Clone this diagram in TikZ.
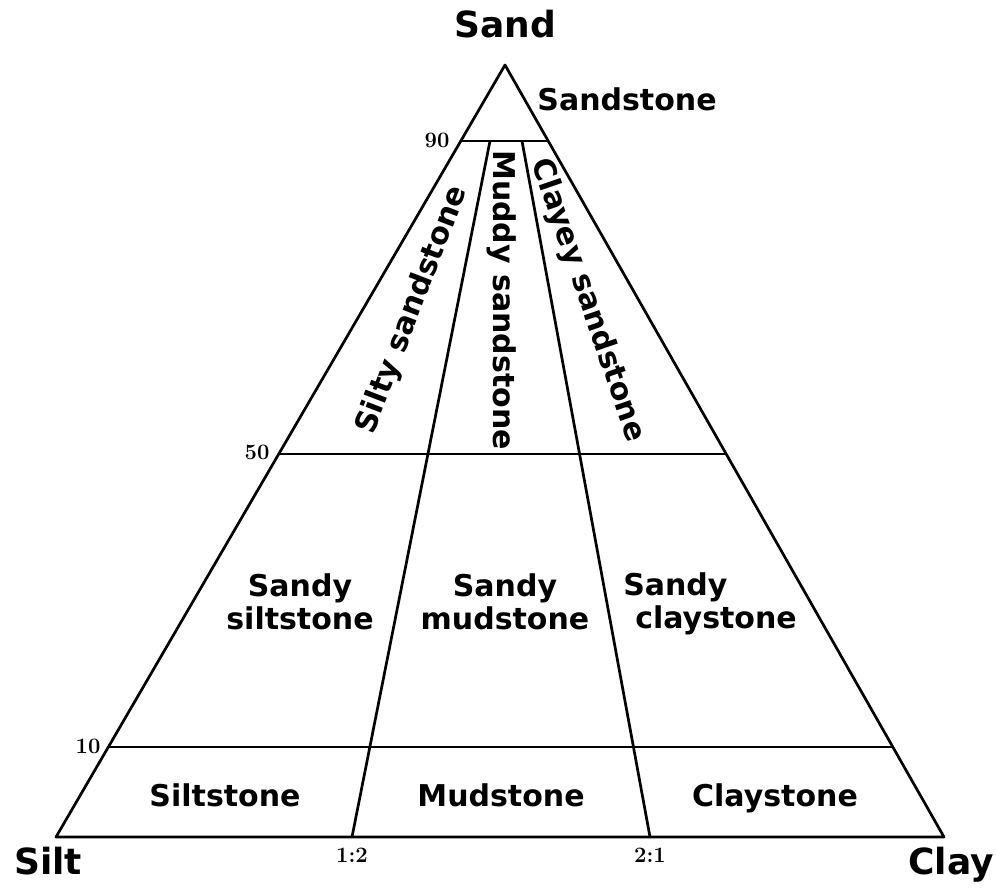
\documentclass[tikz,border=0pt]{standalone}
\usepackage{fontspec}
\newfontfamily\lblfont{DejaVu Sans}
\begin{document}
\begin{tikzpicture}[x=1pt,y=-1pt,line width=2.7pt,line join=round,
  lbl/.style={font=\lblfont\bfseries\fontsize{30}{33}\selectfont,inner sep=0pt},
  ttl/.style={font=\lblfont\bfseries\fontsize{36}{40}\selectfont,inner sep=0pt},
  num/.style={font=\bfseries\fontsize{22}{24}\selectfont,inner sep=0pt}]
\useasboundingbox (0,0) rectangle (996,890);
% vertices
\coordinate (A) at (505,65);
\coordinate (L) at (56,837);
\coordinate (R) at (944,837);
% horizontal lines
\coordinate (n90l) at (461,141);
\coordinate (n90r) at (548,141);
\coordinate (n50l) at (279,454);
\coordinate (n50r) at (726,454);
\coordinate (n10l) at (108,747);
\coordinate (n10r) at (893,747);
% ratio lines
\coordinate (b12) at (352,837);
\coordinate (t12) at (490,141);
\coordinate (b21) at (650,837);
\coordinate (t21) at (522,141);
\draw (A) -- (L) -- (R) -- cycle;
\draw (n90l) -- (n90r);
\draw (n50l) -- (n50r);
\draw (n10l) -- (n10r);
\draw (b12) -- (t12);
\draw (b21) -- (t21);
% titles
\node[ttl,anchor=base] (sand) at (505,38) {Sand};
\node[ttl,anchor=base] (silt) at (48,874) {Silt};
\node[ttl,anchor=base] (clay) at (951,874) {Clay};
% numbers
\node[num] (p90) at (437,140) {90};
\node[num] (p50) at (257,452) {50};
\node[num] (p10) at (88,746) {10};
\node[num] (r12) at (352,855) {1:2};
\node[num] (r21) at (650,855) {2:1};
% region labels
\node[lbl,anchor=base] (sst) at (627,111) {Sandstone};
\node[lbl,anchor=base,rotate=69] (silty) at (420,313) {Silty sandstone};
\node[lbl,anchor=base,rotate=-90] (muddy) at (493,300) {Muddy sandstone};
\node[lbl,anchor=base,rotate=-71] (clayey) at (580,303) {Clayey sandstone};
\node[lbl,align=center] (ssilt) at (300,602) {Sandy\\siltstone};
\node[lbl,align=center] (smud) at (505,602) {Sandy\\mudstone};
\node[lbl,align=left] (sclay) at (710,604) {Sandy\\\hspace*{12pt}claystone};
\node[lbl,anchor=base] (siltst) at (225,806) {Siltstone};
\node[lbl,anchor=base] (mudst) at (501,806) {Mudstone};
\node[lbl,anchor=base] (clayst) at (775,806) {Claystone};
\end{tikzpicture}
\end{document}
